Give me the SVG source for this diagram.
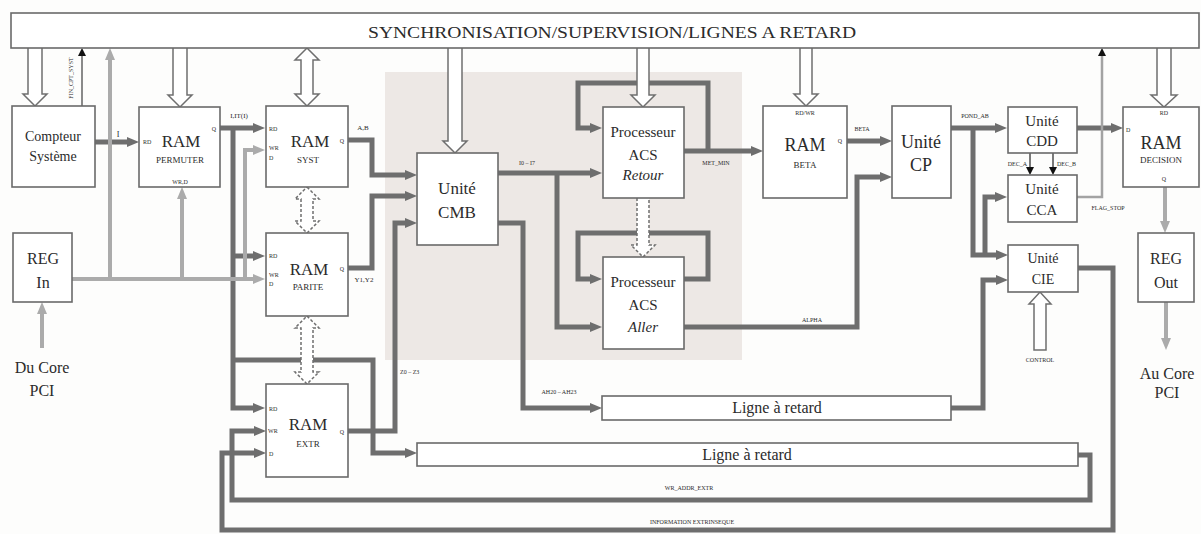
<svg xmlns="http://www.w3.org/2000/svg" width="1201" height="534" viewBox="0 0 1201 534">
<style>
.t{font-family:"Liberation Serif","DejaVu Serif",serif;fill:#2b2b2b;text-anchor:middle}
.st{text-anchor:start}
.en{text-anchor:end}
.f18{font-size:18px}.f17{font-size:17px}.f16{font-size:16px}.f15{font-size:15px}.f14{font-size:14px}
.f9{font-size:9px}.f8{font-size:8px}.f7{font-size:7px}.f6{font-size:6px}
.box{fill:#fff;stroke:#6a6a6a;stroke-width:1.6}
.dk{fill:none;stroke:#6e6e6e;stroke-width:5;marker-end:url(#ad)}
.dkn{fill:none;stroke:#6e6e6e;stroke-width:5}
.lt{fill:none;stroke:#ababab;stroke-width:4;marker-end:url(#al)}
.thin{fill:none;stroke:#8a8a8a;stroke-width:2;marker-end:url(#ab)}
.blk{fill:none;stroke:#222;stroke-width:1.2;marker-end:url(#ab)}
.hol{fill:#fff;stroke:#6f6f6f;stroke-width:1.5}
.dash{stroke-dasharray:3,2}
</style>
<defs>
<marker id="ad" viewBox="0 0 12 10" markerWidth="12" markerHeight="10" refX="2" refY="5" orient="auto" markerUnits="userSpaceOnUse"><path d="M0,0 L12,5 L0,10 z" fill="#6e6e6e"/></marker>
<marker id="al" viewBox="0 0 12 10" markerWidth="12" markerHeight="10" refX="2" refY="5" orient="auto" markerUnits="userSpaceOnUse"><path d="M0,0 L12,5 L0,10 z" fill="#ababab"/></marker>
<marker id="ab" viewBox="0 0 8 8" markerWidth="8" markerHeight="8" refX="1" refY="4" orient="auto" markerUnits="userSpaceOnUse"><path d="M0,0 L8,4 L0,8 z" fill="#111"/></marker>
</defs>
<rect x="0" y="0" width="1201" height="534" fill="#fdfdfc"/>
<rect id="zone" x="385" y="72" width="357" height="288" fill="#ede8e5"/>

<g id="connectors">
<path class="dk" d="M95,142 H129"/>
<path class="dk" d="M220,128 H255"/>
<path class="dk" d="M233,128 V408 H255"/>
<path class="dk" d="M233,256 H255"/>
<path class="dk" d="M233,360 H373 V453 H407"/>
<path class="dk" d="M348,140 H372 V175 H407"/>
<path class="dk" d="M348,268 H372 V196 H407"/>
<path class="dk" d="M348,431 H395 V223 H407"/>
<path class="dk" d="M498,173 H592"/>
<path class="dk" d="M557,173 V327 H592"/>
<path class="dk" d="M498,223 H523 V408 H592"/>
<path class="dk" d="M708,151 V83 H578 V128 H592"/>
<path class="dk" d="M684,151 H753"/>
<path class="dk" d="M684,279 H708 V233 H578 V279 H592"/>
<path class="dk" d="M684,327 H857 V177 H882"/>
<path class="dk" d="M847,141 H882"/>
<path class="dk" d="M951,128 H997"/>
<path class="dk" d="M973,128 V255 H998"/>
<path class="dk" d="M985,255 V197 H997"/>
<path class="dk" d="M951,408 H983 V280 H998"/>
<path class="dk" d="M1077,128 H1113"/>
<path class="dk" d="M1078,268 H1113 V530 H222 V453 H256"/>
<path class="dk" d="M1078,455 H1090 V500 H232 V431 H256"/>
<path class="lt" d="M72,279 H255"/>
<path class="lt" d="M110,279 V58"/>
<path class="lt" d="M182,279 V197"/>
<path class="lt" d="M245,279 V150 H255"/>
<path class="lt" d="M42,348 V312"/>
<path class="lt" d="M1165,187 V223"/>
<path class="lt" d="M1166,302 V340"/>
<path class="thin" d="M82,106 V55"/>
<path class="thin" style="stroke:#a3a3a3;stroke-width:2.5" d="M1077,197 H1102 V55"/>
<path class="blk" d="M1030,153 V168"/>
<path class="blk" d="M1053,153 V168"/>
<circle cx="767" cy="151" r="3" fill="#fff" stroke="#666" stroke-width="1.2"/>
<!-- hollow bus arrows -->
<path class="hol" d="M28,48 V94 H23 L35,106 L47,94 H42 V48"/>
<path class="hol" d="M173,48 V95 H168 L180,107 L192,95 H187 V48"/>
<path class="hol" d="M307,48 L319,60 H313 V94 H319 L307,106 L295,94 H301 V60 H295 Z"/>
<path class="hol dash" d="M307,187 L319,199 H313 V221 H319 L307,233 L295,221 H301 V199 H295 Z"/>
<path class="hol dash" d="M307,316 L319,328 H313 V372 H319 L307,384 L295,372 H301 V328 H295 Z"/>
<path class="hol" d="M448,48 V141 H443 L455,153 L467,141 H462 V48"/>
<path class="hol" d="M637,48 V95 H631 L643,107 L655,95 H649 V48"/>
<path class="hol dash" d="M637,198 V245 H631 L643,257 L655,245 H649 V198"/>
<path class="hol" d="M800,48 V94 H794 L806,106 L818,94 H812 V48"/>
<path class="hol" d="M1157,48 V95 H1151 L1164,107 L1177,95 H1171 V48"/>
<path class="hol" d="M1034,350 V304 H1029 L1040,292 L1051,304 H1046 V350 Z"/>
</g>

<g id="sync">
<rect class="box" x="11" y="13" width="1188" height="35"/>
<text class="t f16" x="612" y="38" textLength="488" lengthAdjust="spacingAndGlyphs">SYNCHRONISATION/SUPERVISION/LIGNES A RETARD</text>
</g>

<g id="compteur">
<rect class="box" x="12" y="106" width="83" height="81"/>
<text class="t f14" x="53" y="141">Compteur</text>
<text class="t f14" x="53" y="161">Système</text>
<text class="t f6" x="73" y="78" transform="rotate(-90 73 78)">FIN_CPT_SYST</text>
<text class="t f8" x="118" y="137">I</text>
</g>

<g id="ram-permuter">
<rect class="box" x="139" y="107" width="81" height="80"/>
<text class="t f6 st" x="143" y="144">RD</text>
<text class="t f17" x="181" y="147">RAM</text>
<text class="t f9" x="180" y="163">PERMUTER</text>
<text class="t f6" x="180" y="184">WR,D</text>
<text class="t f6" x="214" y="131">Q</text>
<text class="t f7" x="239" y="118">I,IT(I)</text>
</g>

<g id="ram-syst">
<rect class="box" x="266" y="106" width="82" height="81"/>
<text class="t f6 st" x="269" y="131">RD</text>
<text class="t f6 st" x="269" y="150">WR</text>
<text class="t f6 st" x="269" y="160">D</text>
<text class="t f17" x="310" y="147">RAM</text>
<text class="t f9" x="308" y="163">SYST</text>
<text class="t f6" x="342" y="143">Q</text>
<text class="t f7" x="363" y="130">A,B</text>
</g>

<g id="reg-in">
<rect class="box" x="13" y="233" width="59" height="69"/>
<text class="t f16" x="43" y="264">REG</text>
<text class="t f16" x="43" y="288">In</text>
<text class="t f16" x="42" y="373">Du Core</text>
<text class="t f16" x="42" y="396">PCI</text>
</g>

<g id="ram-parite">
<rect class="box" x="266" y="233" width="82" height="83"/>
<text class="t f6 st" x="269" y="258">RD</text>
<text class="t f6 st" x="269" y="277">WR</text>
<text class="t f6 st" x="269" y="286">D</text>
<text class="t f17" x="309" y="275">RAM</text>
<text class="t f9" x="308" y="290">PARITE</text>
<text class="t f6" x="342" y="271">Q</text>
<text class="t f7" x="364" y="282">Y1,Y2</text>
</g>

<g id="ram-extr">
<rect class="box" x="266" y="384" width="82" height="93"/>
<text class="t f6 st" x="269" y="411">RD</text>
<text class="t f6 st" x="268" y="433">WR</text>
<text class="t f6 st" x="269" y="456">D</text>
<text class="t f17" x="308" y="430">RAM</text>
<text class="t f9" x="308" y="447">EXTR</text>
<text class="t f6" x="342" y="434">Q</text>
<text class="t f6 st" x="400" y="374">Z0 – Z3</text>
</g>

<g id="unite-cmb">
<rect class="box" x="417" y="153" width="81" height="92"/>
<text class="t f17" x="457" y="194">Unité</text>
<text class="t f17" x="457" y="218">CMB</text>
<text class="t f6" x="527" y="165">I0 – I7</text>
<text class="t f6" x="559" y="394">AH20 – AH23</text>
</g>

<g id="acs-retour">
<rect class="box" x="603" y="107" width="81" height="91"/>
<text class="t f15" x="643" y="137">Processeur</text>
<text class="t f15" x="643" y="160">ACS</text>
<text class="t f15" x="643" y="180" font-style="italic">Retour</text>
<text class="t f6" x="716" y="165">MET_MIN</text>
</g>

<g id="acs-aller">
<rect class="box" x="603" y="257" width="81" height="92"/>
<text class="t f15" x="643" y="287">Processeur</text>
<text class="t f15" x="643" y="310">ACS</text>
<text class="t f15" x="643" y="332" font-style="italic">Aller</text>
<text class="t f6" x="812" y="322">ALPHA</text>
</g>

<g id="ram-beta">
<rect class="box" x="763" y="106" width="84" height="92"/>
<text class="t f6" x="805" y="115">RD/WR</text>
<text class="t f18" x="805" y="151">RAM</text>
<text class="t f9" x="805" y="168">BETA</text>
<text class="t f6" x="840" y="143">Q</text>
<text class="t f6" x="862" y="131">BETA</text>
</g>

<g id="unite-cp">
<rect class="box" x="892" y="106" width="59" height="92"/>
<text class="t f18" x="921" y="148">Unité</text>
<text class="t f18" x="921" y="171">CP</text>
<text class="t f6" x="975" y="118">POND_AB</text>
</g>

<g id="unite-cdd">
<rect class="box" x="1008" y="107" width="69" height="46"/>
<text class="t f15" x="1042" y="126">Unité</text>
<text class="t f15" x="1042" y="146">CDD</text>
<text class="t f6 en" x="1027" y="166">DEC_A</text>
<text class="t f6 st" x="1057" y="166">DEC_B</text>
</g>

<g id="unite-cca">
<rect class="box" x="1008" y="175" width="69" height="47"/>
<text class="t f15" x="1042" y="194">Unité</text>
<text class="t f15" x="1042" y="215">CCA</text>
<text class="t f6" x="1108" y="210">FLAG_STOP</text>
</g>

<g id="unite-cie">
<rect class="box" x="1008" y="245" width="70" height="47"/>
<text class="t f14" x="1043" y="263">Unité</text>
<text class="t f14" x="1043" y="284">CIE</text>
<text class="t f6" x="1040" y="362">CONTROL</text>
</g>

<g id="ram-decision">
<rect class="box" x="1123" y="107" width="76" height="80"/>
<text class="t f6" x="1164" y="115">RD</text>
<text class="t f6 st" x="1126" y="132">D</text>
<text class="t f18" x="1161" y="149">RAM</text>
<text class="t f9" x="1161" y="163">DECISION</text>
<text class="t f6" x="1164" y="181">Q</text>
</g>

<g id="reg-out">
<rect class="box" x="1138" y="233" width="56" height="69"/>
<text class="t f16" x="1166" y="264">REG</text>
<text class="t f16" x="1166" y="288">Out</text>
<text class="t f16" x="1167" y="379">Au Core</text>
<text class="t f16" x="1167" y="398">PCI</text>
</g>

<g id="ligne-1">
<rect class="box" x="602" y="396" width="349" height="24"/>
<text class="t f16" x="777" y="413">Ligne à retard</text>
</g>

<g id="ligne-2">
<rect class="box" x="417" y="443" width="661" height="23"/>
<text class="t f16" x="747" y="460">Ligne à retard</text>
<text class="t f6" x="689" y="490">WR_ADDR_EXTR</text>
<text class="t f6" x="692" y="524">INFORMATION EXTRINSEQUE</text>
</g>
</svg>
